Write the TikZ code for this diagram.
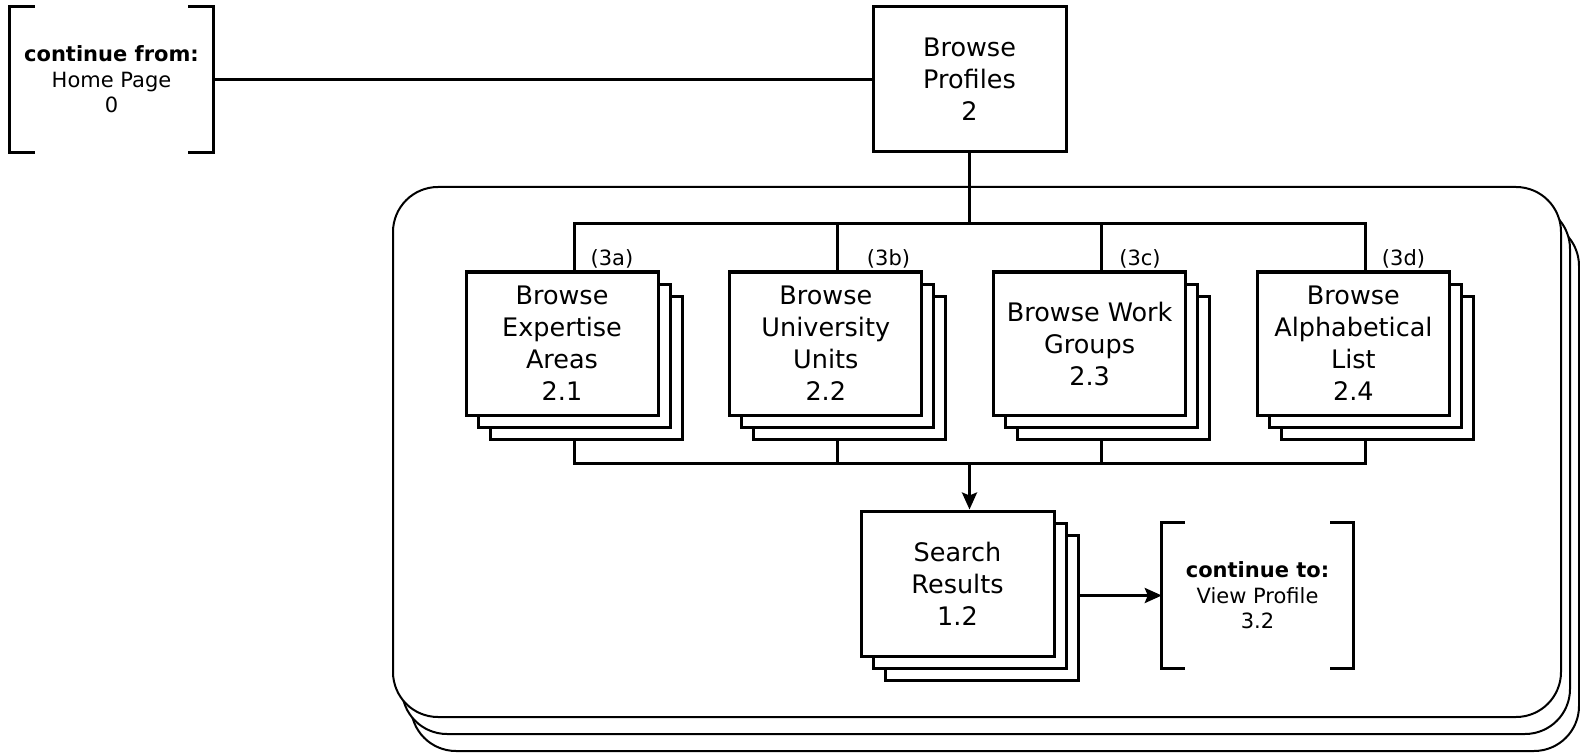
\documentclass[tikz,border=0pt]{standalone}
\usepackage{fontspec}
\setmainfont{DejaVu Sans}
\usetikzlibrary{shadows,arrows.meta,calc}
\begin{document}
\begin{tikzpicture}[x=1pt,y=-1pt,
  big/.style={font=\fontsize{25.5}{32}\selectfont},
  small/.style={font=\fontsize{21}{25.5}\selectfont},
  pbox/.style={draw, line width=3pt, fill=white, align=center, inner sep=0pt,
    minimum width=193pt, minimum height=145pt, big},
  stackshadow/.style={double copy shadow={shadow xshift=12pt, shadow yshift=-12pt, fill=white, draw=black, line width=3pt}},
  stackbox/.style={pbox, minimum width=192pt, minimum height=143pt, stackshadow},
  brk/.style={inner sep=0pt, align=center, small, minimum height=145pt},
  conn/.style={line width=3pt},
  arr/.style={conn, -{Stealth[length=17pt,width=15pt,inset=3pt]}},
  layer/.style={draw, fill=white, line width=2pt, rounded corners=45pt},
  lbl/.style={small, inner sep=0pt}
]
\useasboundingbox (0,0) rectangle (1580,754);

% container (stacked rounded rectangles)
\draw[layer] (411,221) rectangle (1579,751);
\draw[layer] (402,204) rectangle (1570,734);
\draw[layer] (393,187) rectangle (1561,717);

% top row
\node[brk, minimum width=203pt] (cfrom) at (111.5,79.5) {\textbf{continue from:}\\Home Page\\0};
\draw[conn] ($(cfrom.north west)+(25,0)$) -- (cfrom.north west) -- (cfrom.south west) -- ++(25,0);
\draw[conn] ($(cfrom.north east)+(-25,0)$) -- (cfrom.north east) -- (cfrom.south east) -- ++(-25,0);

\node[pbox] (prof) at (969.5,79.5) {Browse\\Profiles\\2};
\draw[conn] (cfrom.east) -- (prof.west);

% child stacks
\node[stackbox] (b1) at (562,343.5) {Browse\\Expertise\\Areas\\2.1};
\node[stackbox] (b2) at (825.8,343.5) {Browse\\University\\Units\\2.2};
\node[stackbox] (b3) at (1089.6,343.5) {Browse Work\\Groups\\2.3};
\node[stackbox] (b4) at (1353.4,343.5) {Browse\\Alphabetical\\List\\2.4};

\node[lbl] (l3a) at (612,259) {(3a)};
\node[lbl] (l3b) at (888.5,259) {(3b)};
\node[lbl] (l3c) at (1140,259) {(3c)};
\node[lbl] (l3d) at (1403.5,259) {(3d)};

\coordinate (tbus) at (969.5,224);
\coordinate (bbus) at (969.5,463);
\draw[conn] (prof.south) -- (tbus);
\foreach \b in {b1,b2,b3,b4} {
  \draw[conn] ($(\b.north)+(12,0)$) |- (tbus);
  \draw[conn] ($(\b.south)+(12,24)$) |- (bbus);
}

% search results
\node[pbox, stackshadow] (sr) at (957.5,583.5) {Search\\Results\\1.2};
\draw[arr] (bbus) -- ($(sr.north)+(12,0)$);

\node[brk, minimum width=191pt] (cto) at (1257.5,595.5) {\textbf{continue to:}\\View Profile\\3.2};
\draw[conn] ($(cto.north west)+(23,0)$) -- (cto.north west) -- (cto.south west) -- ++(23,0);
\draw[conn] ($(cto.north east)+(-23,0)$) -- (cto.north east) -- (cto.south east) -- ++(-23,0);

\draw[arr] ($(sr.east)+(24,12)$) -- (cto.west);
\end{tikzpicture}
\end{document}
